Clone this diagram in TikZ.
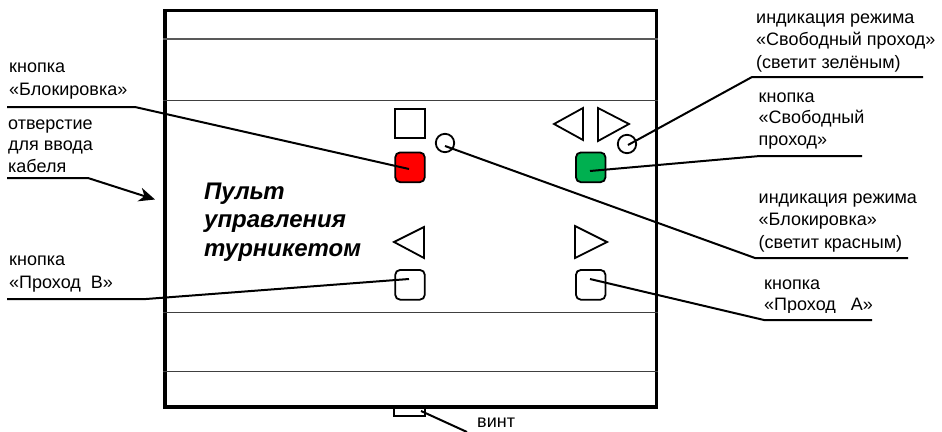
\documentclass[tikz,border=0pt]{standalone}
\usepackage{fontspec}
\setmainfont{Liberation Sans}
\usetikzlibrary{arrows.meta}
\newcommand\fstline{\rule{0pt}{14pt}}
\newcommand\fsttitle{\rule{0pt}{18pt}}
\tikzset{
  x=1pt,y=-1pt,
  leader/.style={draw=black,line width=2pt,line join=miter},
  sym/.style={draw=black,line width=1.8pt,line join=miter},
  btn/.style={draw=black,line width=1.8pt,rounded corners=5pt,minimum width=29.6pt,minimum height=29.8pt,inner sep=0pt,anchor=north west},
  lamp/.style={circle,draw=black,line width=1.8pt,minimum size=18.4pt,inner sep=0pt},
  divider/.style={draw=black!75,line width=0.9pt},
  lbl/.style={anchor=north west,inner sep=0pt,align=left,font=\fontsize{18}{#1}\selectfont},
}
\begin{document}
\begin{tikzpicture}
\useasboundingbox (0,0) rectangle (942,431);
% screw
\node[draw=black,line width=1.6pt,fill=white,minimum width=31.4pt,minimum height=10.4pt,inner sep=0pt,anchor=north west] (screw) at (393,405) {};
% housing
\node[inner sep=0pt,line width=3.5pt,draw=black,minimum width=491.5pt,minimum height=396.5pt,anchor=north west] (body) at (163,8.5) {};
\draw[divider,draw=black!65,line width=1.4pt] (body.north west |- 0,39) -- (body.north east |- 0,39);
\foreach \yy in {100,312,371.5}{
  \draw[divider] (body.north west |- 0,\yy) -- (body.north east |- 0,\yy);
}
% symbols
\node[draw=black,line width=1.8pt,minimum width=29.8pt,minimum height=29.4pt,inner sep=0pt,anchor=north west] (square) at (394,108) {};
\draw[sym] (554,124) -- (583,108) -- (583,140) -- cycle;
\draw[sym] (598,108) -- (598,141) -- (629,124) -- cycle;
\draw[sym] (394,242) -- (424,227) -- (424,258) -- cycle;
\draw[sym] (575,226) -- (575,258) -- (607,242) -- cycle;
% buttons
\node[btn,fill=red] (bblock) at (394.3,151.5) {};
\node[btn,fill={rgb,255:red,0;green,176;blue,80}] (bfree) at (575,151.5) {};
\node[btn] (bb) at (394.3,269) {};
\node[btn] (ba) at (575,269) {};
% lamps
\node[lamp] (lred) at (445,143) {};
\node[lamp] (lgreen) at (627,144) {};
% title
\node[anchor=north west,inner sep=0pt,align=left,font=\fontsize{24}{28.5}\selectfont\bfseries\itshape] (title) at (204,181) {\fsttitle Пульт\\управления\\турникетом};
% labels
\node[lbl=23] (t1) at (9,58) {\fstline кнопка\\«Блокировка»};
\node[lbl=21.5] (t2) at (8,115) {\fstline отверстие\\для ввода\\кабеля};
\node[lbl=23] (t3) at (9,251) {\fstline кнопка\\«Проход\ \ В»};
\node[lbl=22.5] (t4) at (756,9) {\fstline индикация режима\\«Свободный проход»\\(светит зелёным)};
\node[lbl=21.5] (t5) at (758.5,88) {\fstline кнопка\\«Свободный\\проход»};
\node[lbl=22.5] (t6) at (758.5,189) {\fstline индикация режима\\«Блокировка»\\(светит красным)};
\begin{scope}
\clip (750,270) rectangle (900,312.5);
\node[lbl=21] (t7) at (764,275) {\fstline кнопка\\«Проход\ \ \ А»};
\end{scope}
\node[lbl=21] (t8) at (477,413) {\fstline винт};
% leader coordinates
\coordinate (p1a) at (7,107); \coordinate (p1b) at (135,107); \coordinate (p1c) at (409,169);
\coordinate (p2a) at (7,178); \coordinate (p2b) at (88,178); \coordinate (p2c) at (155,199.5);
\coordinate (p3a) at (7,299); \coordinate (p3b) at (146,299); \coordinate (p3c) at (409,279);
\coordinate (p4a) at (923,77); \coordinate (p4b) at (752,77); \coordinate (p4c) at (628,145);
\coordinate (p5a) at (862,156); \coordinate (p5b) at (760,156); \coordinate (p5c) at (590,171);
\coordinate (p6a) at (908,258); \coordinate (p6b) at (755,258); \coordinate (p6c) at (445,146);
\coordinate (p7a) at (872,320); \coordinate (p7b) at (764,320); \coordinate (p7c) at (590,279);
\coordinate (p8a) at (421,411); \coordinate (p8b) at (467,432);
\draw[leader] (p1a) -- (p1b) -- (p1c);
\draw[leader,-{Stealth[length=16pt,width=14pt,inset=5pt]}] (p2a) -- (p2b) -- (p2c);
\draw[leader] (p3a) -- (p3b) -- (p3c);
\draw[leader] (p4a) -- (p4b) -- (p4c);
\draw[leader] (p5a) -- (p5b) -- (p5c);
\draw[leader] (p6a) -- (p6b) -- (p6c);
\draw[leader] (p7a) -- (p7b) -- (p7c);
\draw[leader] (p8a) -- (p8b);
\end{tikzpicture}
\end{document}
